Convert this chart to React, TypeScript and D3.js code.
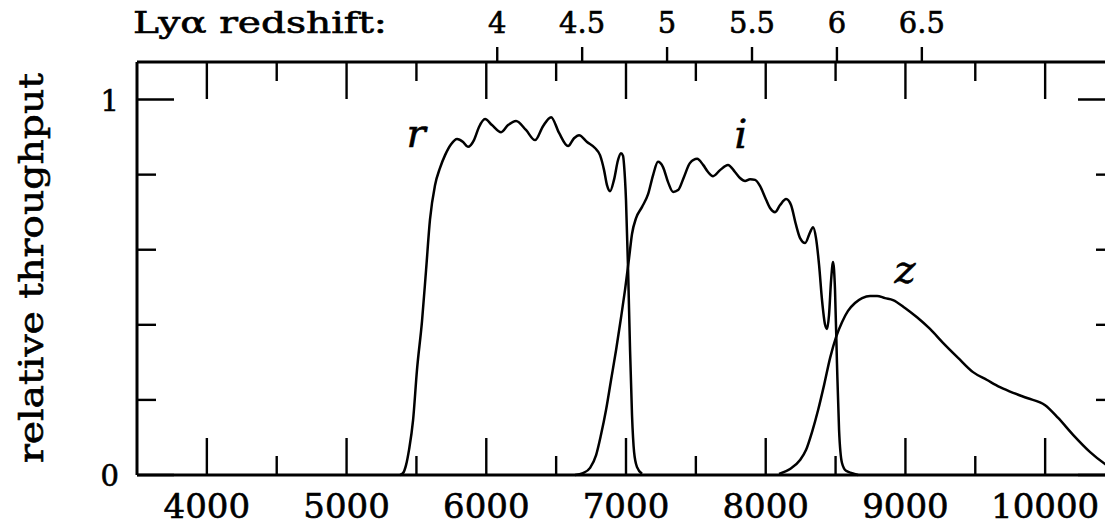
import React from "react";
import * as d3 from "d3";

// ---- data (wavelength in Å, relative throughput) ----
const rWave = [5383, 5404, 5426, 5447, 5476, 5504, 5540, 5569, 5597, 5633, 5669, 5705, 5748, 5791, 5834, 5869, 5912, 5948, 5991, 6041, 6106, 6156, 6213, 6284, 6349, 6406, 6464, 6521, 6585, 6628, 6664, 6721, 6778, 6814, 6843, 6864, 6886, 6914, 6943, 6964, 6979, 6986, 7000, 7015, 7029, 7043, 7058, 7079, 7115];
const rThru = [0, 0.005, 0.027, 0.067, 0.146, 0.28, 0.41, 0.546, 0.68, 0.772, 0.818, 0.852, 0.881, 0.895, 0.887, 0.874, 0.892, 0.927, 0.948, 0.932, 0.913, 0.932, 0.943, 0.919, 0.892, 0.929, 0.953, 0.911, 0.876, 0.897, 0.905, 0.887, 0.871, 0.852, 0.812, 0.772, 0.756, 0.786, 0.839, 0.857, 0.85, 0.826, 0.732, 0.546, 0.333, 0.16, 0.061, 0.021, 0.003];

const iWave = [6635, 6692, 6743, 6786, 6821, 6857, 6893, 6929, 6964, 6993, 7022, 7043, 7072, 7115, 7158, 7194, 7229, 7265, 7301, 7337, 7373, 7415, 7458, 7509, 7552, 7587, 7623, 7673, 7730, 7780, 7816, 7852, 7888, 7924, 7959, 7995, 8031, 8067, 8103, 8146, 8181, 8217, 8246, 8282, 8318, 8339, 8360, 8382, 8403, 8425, 8439, 8453, 8468, 8482, 8496, 8510, 8525, 8546, 8575, 8618, 8661];
const iThru = [0, 0.005, 0.019, 0.053, 0.107, 0.173, 0.253, 0.333, 0.418, 0.493, 0.578, 0.642, 0.684, 0.714, 0.748, 0.799, 0.834, 0.82, 0.78, 0.754, 0.759, 0.794, 0.831, 0.842, 0.826, 0.807, 0.796, 0.812, 0.826, 0.807, 0.791, 0.783, 0.788, 0.786, 0.77, 0.74, 0.711, 0.7, 0.719, 0.735, 0.719, 0.666, 0.631, 0.618, 0.647, 0.66, 0.631, 0.559, 0.466, 0.4, 0.389, 0.426, 0.519, 0.567, 0.493, 0.298, 0.12, 0.032, 0.011, 0.005, 0];

const zWave = [8095, 8174, 8246, 8289, 8332, 8375, 8418, 8461, 8504, 8546, 8589, 8639, 8690, 8747, 8797, 8854, 8911, 8997, 9083, 9176, 9269, 9377, 9484, 9584, 9677, 9777, 9871, 10000, 10093, 10200, 10322, 10429, 10500];
const zThru = [0.003, 0.016, 0.04, 0.067, 0.115, 0.173, 0.24, 0.312, 0.368, 0.407, 0.437, 0.458, 0.471, 0.477, 0.477, 0.471, 0.466, 0.445, 0.42, 0.389, 0.352, 0.312, 0.274, 0.253, 0.234, 0.218, 0.205, 0.186, 0.152, 0.107, 0.061, 0.029, 0.011];

const filterNames = ["r", "i", "z"];
const xMajorTicks = [4000, 5000, 6000, 7000, 8000, 9000, 10000];
const xMinorTicks = [4500, 5500, 6500, 7500, 8500, 9500];
const yMajorTicks = [0, 1];
const yMinorTicks = [0.2, 0.4, 0.6, 0.8];
const redshiftTicks = [4, 4.5, 5, 5.5, 6, 6.5];
const LYA = 1215.67;

const W = 1105;
const H = 527;

export default function App() {
  const x = d3.scaleLinear().domain([3500, 10500]).range([137, 1115]);
  const y = d3.scaleLinear().domain([0, 1.1]).range([475, 62]);

  const line = d3
    .line<[number, number]>()
    .x((d) => x(d[0]))
    .y((d) => y(d[1]))
    .curve(d3.curveMonotoneX);

  const series = [
    rWave.map((w, k) => [w, rThru[k]] as [number, number]),
    iWave.map((w, k) => [w, iThru[k]] as [number, number]),
    zWave.map((w, k) => [w, zThru[k]] as [number, number]),
  ];
  const labelPos = [
    { x: 416, y: 147 },
    { x: 741, y: 148 },
    { x: 905, y: 283 },
  ];

  const x0 = x(3500);
  const x1 = x(10500);
  const yb = y(0);
  const yt = y(1.1);
  const serif = "'DejaVu Serif', serif";
  const major = 37;
  const minor = 19;
  const textStroke = { stroke: "#000", strokeWidth: 0.6 };

  return (
    <svg
      width={W}
      height={H}
      style={{ position: "absolute", left: 0, top: 0, background: "#fff" }}
    >
      <rect x={0} y={0} width={W} height={H} fill="#fff" />
      {/* curves */}
      <g fill="none" stroke="#000" strokeWidth={2.5} strokeLinejoin="round">
        {series.map((s, k) => (
          <path key={k} d={line(s) || ""} />
        ))}
      </g>
      {/* filter labels */}
      {filterNames.map((n, k) => (
        <text
          key={n}
          x={labelPos[k].x}
          y={labelPos[k].y}
          textAnchor="middle"
          fontFamily={serif}
          fontStyle="italic"
          fontSize={40}
          fill="#000"
          {...textStroke}
        >
          {n}
        </text>
      ))}
      {/* frame */}
      <g stroke="#000" strokeWidth={3} fill="none">
        <line x1={x0} x2={x1} y1={yb} y2={yb} />
        <line x1={x0} x2={x1} y1={yt} y2={yt} />
        <line x1={x0} x2={x0} y1={yt} y2={yb} />
        <line x1={x1} x2={x1} y1={yt} y2={yb} />
      </g>
      {/* x ticks bottom & top */}
      <g stroke="#000" strokeWidth={2.4}>
        {xMajorTicks.map((t) => (
          <g key={"M" + t}>
            <line x1={x(t)} x2={x(t)} y1={yb} y2={yb - major} />
            <line x1={x(t)} x2={x(t)} y1={yt} y2={yt + major} />
          </g>
        ))}
        {xMinorTicks.map((t) => (
          <g key={"m" + t}>
            <line x1={x(t)} x2={x(t)} y1={yb} y2={yb - minor} />
            <line x1={x(t)} x2={x(t)} y1={yt} y2={yt + minor} />
          </g>
        ))}
        {yMajorTicks.map((t) => (
          <g key={"yM" + t}>
            <line x1={x0} x2={x0 + major} y1={y(t)} y2={y(t)} />
            <line x1={x1} x2={x1 - major} y1={y(t)} y2={y(t)} />
          </g>
        ))}
        {yMinorTicks.map((t) => (
          <g key={"ym" + t}>
            <line x1={x0} x2={x0 + minor} y1={y(t)} y2={y(t)} />
            <line x1={x1} x2={x1 - minor} y1={y(t)} y2={y(t)} />
          </g>
        ))}
        {redshiftTicks.map((z) => (
          <line
            key={"z" + z}
            x1={x(LYA * (1 + z))}
            x2={x(LYA * (1 + z))}
            y1={yt}
            y2={yt - 15}
          />
        ))}
      </g>
      {/* x tick labels */}
      {xMajorTicks.map((t) => (
        <text
          key={"xl" + t}
          x={x(t)}
          y={518}
          textAnchor="middle"
          fontFamily={serif}
          fontSize={34}
          fill="#000"
          {...textStroke}
        >
          {t}
        </text>
      ))}
      {/* y tick labels */}
      {yMajorTicks.map((t) => (
        <text
          key={"yl" + t}
          x={119}
          y={y(t) + 11}
          textAnchor="end"
          fontFamily={serif}
          fontSize={29}
          fill="#000"
          {...textStroke}
        >
          {t}
        </text>
      ))}
      {/* redshift labels */}
      {redshiftTicks.map((z) => (
        <text
          key={"zl" + z}
          x={x(LYA * (1 + z))}
          y={33}
          textAnchor="middle"
          fontFamily={serif}
          fontSize={29}
          fill="#000"
          {...textStroke}
        >
          {z}
        </text>
      ))}
      <text
        x={133}
        y={33}
        fontFamily={serif}
        fontSize={30}
        fill="#000"
        textLength={254}
        lengthAdjust="spacingAndGlyphs"
        {...textStroke}
      >
        {"Lyα  redshift:"}
      </text>
      {/* y axis title */}
      <text
        transform={`translate(43,268) rotate(-90)`}
        textAnchor="middle"
        fontFamily={serif}
        fontSize={34}
        fill="#000"
        textLength={390}
        lengthAdjust="spacingAndGlyphs"
        {...textStroke}
      >
        relative throughput
      </text>
    </svg>
  );
}
